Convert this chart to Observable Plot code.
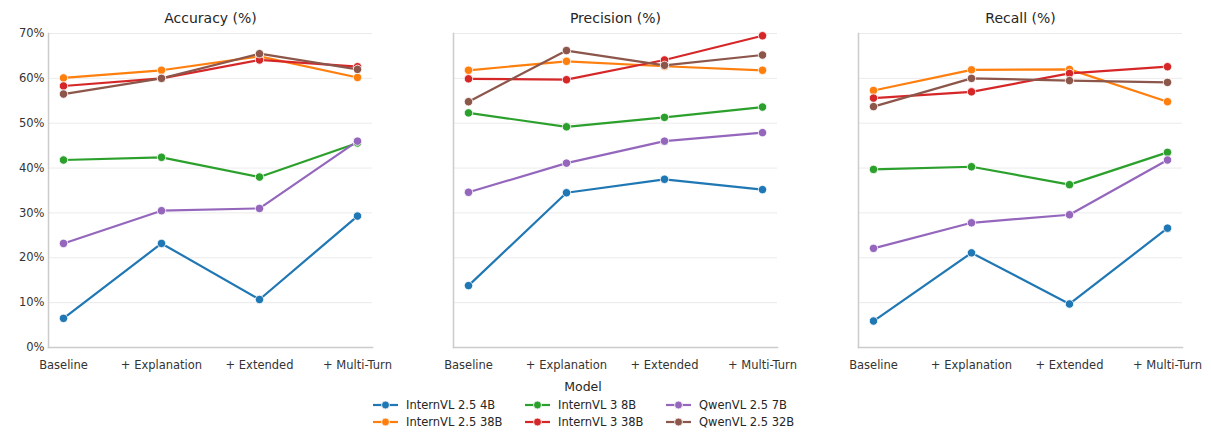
<!DOCTYPE html>
<html>
<head>
<meta charset="utf-8">
<script src="https://cdn.jsdelivr.net/npm/d3@7"></script>
<script src="https://cdn.jsdelivr.net/npm/@observablehq/plot@0.6"></script>
<style>
  body { margin: 0; background: #fff; font-family: "DejaVu Sans", sans-serif; }
  #wrap { position: relative; width: 1211px; height: 432px; overflow: hidden; }
  .panel { position: absolute; top: 0; }
  #legend { position: absolute; left: 0; top: 378px; width: 1211px; color: #262626; font-size: 11.5px; }
  #legend .ttl { position: absolute; left: 0; width: 1166px; text-align: center; font-size: 12.5px; top: 1px; }
  .item { position: absolute; display: flex; align-items: center; height: 16px; }
  .item span { margin-left: 7px; white-space: nowrap; }
</style>
</head>
<body>
<div id="wrap">
  <div id="legend"><div class="ttl">Model</div></div>
</div>
<script>
const stages = ["Baseline", "+ Explanation", "+ Extended", "+ Multi-Turn"];
const models = ["InternVL 2.5 4B", "InternVL 2.5 38B", "InternVL 3 8B", "InternVL 3 38B", "QwenVL 2.5 7B", "QwenVL 2.5 32B"];
const colors = ["#1f77b4", "#ff7f0e", "#2ca02c", "#d62728", "#9467bd", "#8c564b"];
const metrics = ["Accuracy (%)", "Precision (%)", "Recall (%)"];
const yTicks = [0, 10, 20, 30, 40, 50, 60, 70];

// values per model, in stage order
const accuracy = [
  [6.5, 23.2, 10.7, 29.3],
  [60.1, 61.8, 64.9, 60.2],
  [41.8, 42.4, 38.0, 45.6],
  [58.3, 60.0, 64.1, 62.6],
  [23.2, 30.5, 31.0, 46.0],
  [56.5, 60.0, 65.5, 62.0]
];
const precision = [
  [13.8, 34.5, 37.5, 35.2],
  [61.8, 63.8, 62.7, 61.8],
  [52.3, 49.2, 51.3, 53.6],
  [59.9, 59.7, 64.1, 69.5],
  [34.6, 41.1, 46.0, 47.9],
  [54.8, 66.2, 62.9, 65.2]
];
const recall = [
  [5.9, 21.1, 9.7, 26.6],
  [57.3, 61.9, 62.0, 54.8],
  [39.7, 40.3, 36.3, 43.5],
  [55.6, 57.0, 61.1, 62.6],
  [22.1, 27.8, 29.6, 41.8],
  [53.7, 60.0, 59.5, 59.1]
];
const series = [accuracy, precision, recall];

const wrap = document.getElementById("wrap");

series.forEach((vals, pi) => {
  const rows = [];
  models.forEach((m, mi) => stages.forEach((s, si) => rows.push({model: m, stage: s, value: vals[mi][si]})));
  const last = pi === 2;
  const W = last ? 401 : 405;
  const chart = Plot.plot({
    width: W,
    height: 380,
    marginLeft: 48,
    marginRight: last ? 29 : 33,
    marginTop: 33,
    marginBottom: 33,
    style: {fontFamily: "DejaVu Sans, sans-serif", fontSize: "11.5px", color: "#333", background: "#fff"},
    x: {type: "point", domain: stages, padding: 0.148, label: null, tickSize: 0, tickPadding: 13},
    y: {domain: [0, 70], ticks: yTicks, label: null, tickSize: 0, tickPadding: 4,
        tickFormat: pi === 0 ? (d => d + "%") : (() => "")},
    color: {domain: models, range: colors},
    marks: [
      Plot.gridY(yTicks, {stroke: "#ebebeb", strokeOpacity: 1, strokeWidth: 1}),
      Plot.frame({anchor: "left", stroke: "#cccccc", strokeWidth: 1.5}),
      Plot.frame({anchor: "bottom", stroke: "#cccccc", strokeWidth: 1.5}),
      Plot.line(rows, {x: "stage", y: "value", z: "model", stroke: "model", strokeWidth: 2.2}),
      Plot.dot(rows, {x: "stage", y: "value", fill: "model", r: 4.2, stroke: "white", strokeWidth: 0.8}),
      Plot.text([metrics[pi]], {frameAnchor: "top", dy: -20, fontSize: 14, fill: "#262626", text: d => d})
    ]
  });
  chart.classList.add("panel");
  chart.style.left = (pi * 405) + "px";
  wrap.appendChild(chart);
});

// legend (column-wise: 3 columns x 2 rows)
const legend = document.getElementById("legend");
const colX = [372, 524, 665];
const rowY = [27, 44];
models.forEach((m, i) => {
  const c = Math.floor(i / 2), r = i % 2;
  const div = document.createElement("div");
  div.className = "item";
  div.style.left = colX[c] + "px";
  div.style.top = (rowY[r] - 8) + "px";
  div.innerHTML = `<svg width="27" height="10"><line x1="1" y1="5" x2="26" y2="5" stroke="${colors[i]}" stroke-width="2.2"/><circle cx="13.5" cy="5" r="4" fill="${colors[i]}" stroke="white" stroke-width="0.8"/></svg><span>${m}</span>`;
  legend.appendChild(div);
});
</script>
</body>
</html>
